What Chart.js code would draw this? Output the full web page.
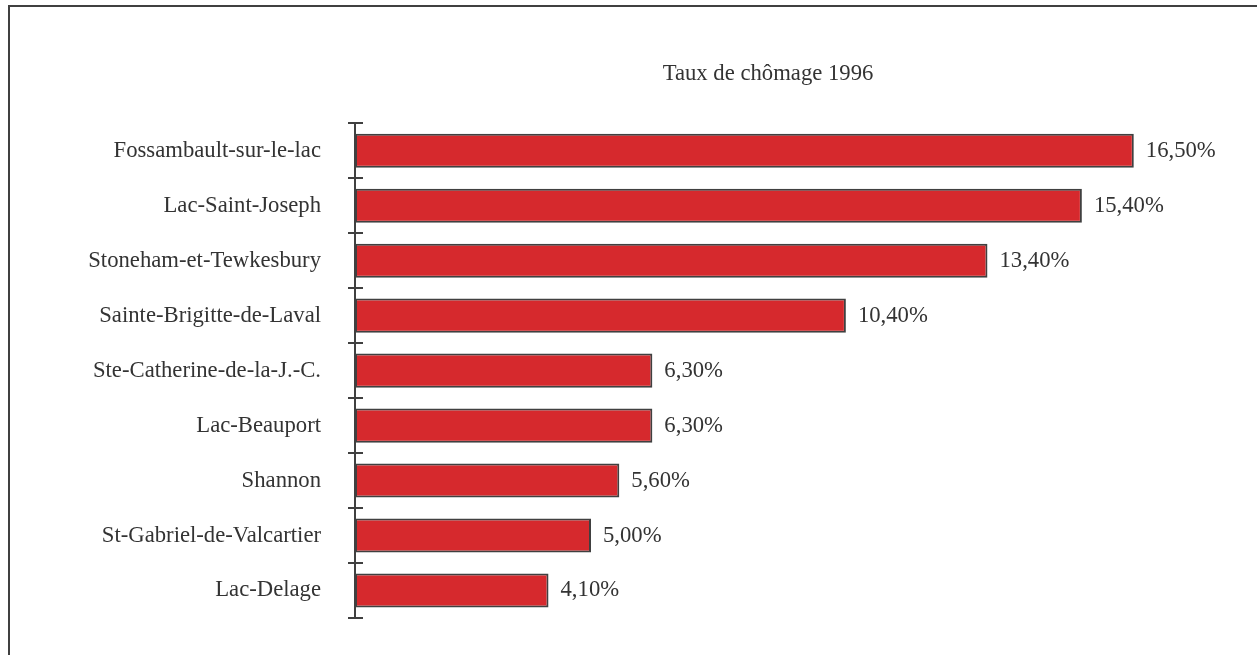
<!DOCTYPE html>
<html>
<head>
<meta charset="utf-8">
<script src="https://cdn.jsdelivr.net/npm/chart.js@4"></script>
<style>
  body { margin: 0; background: #fff; }
  #cadre { position: absolute; left: 8px; top: 5px; width: 1300px; height: 700px;
           border-left: 2px solid #404040; border-top: 2px solid #404040; }
  #grafikon { position: absolute; left: 0; top: 0; }
</style>
</head>
<body>
<div id="cadre"></div>
<canvas id="grafikon" width="1257" height="655"></canvas>
<script>
var municipalites = ["Fossambault-sur-le-lac", "Lac-Saint-Joseph", "Stoneham-et-Tewkesbury",
    "Sainte-Brigitte-de-Laval", "Ste-Catherine-de-la-J.-C.", "Lac-Beauport",
    "Shannon", "St-Gabriel-de-Valcartier", "Lac-Delage"];
var taux = [16.5, 15.4, 13.4, 10.4, 6.3, 6.3, 5.6, 5.0, 4.1];
var etiquettes = ["16,50%", "15,40%", "13,40%", "10,40%", "6,30%", "6,30%", "5,60%", "5,00%", "4,10%"];

var police = "'Liberation Serif', 'Times New Roman', serif";
var gris = "#404040";
var taille = 22.7;

// petites marques de part et d'autre de l'axe + valeurs au bout des barres
var extras = {
    id: "extras",
    afterDraw: function(chart) {
        var ctx = chart.ctx;
        var y = chart.scales.y;
        var x0 = y.right;
        var pas = (y.getPixelForValue(1) - y.getPixelForValue(0));
        ctx.save();
        ctx.strokeStyle = gris;
        ctx.lineWidth = 2;
        for (var i = 0; i <= municipalites.length; i++) {
            var py = Math.round(y.getPixelForValue(i) - pas / 2);
            ctx.beginPath();
            ctx.moveTo(x0 - 7, py);
            ctx.lineTo(x0 + 8, py);
            ctx.stroke();
        }
        ctx.fillStyle = "#333";
        ctx.font = taille + "px " + police;
        ctx.textBaseline = "middle";
        chart.getDatasetMeta(0).data.forEach(function(bar, i) {
            ctx.fillText(etiquettes[i], bar.x + 12, bar.y);
        });
        ctx.restore();
    }
};

new Chart("grafikon", {
    type: "bar",
    data: {
        labels: municipalites,
        datasets: [{
            data: taux,
            backgroundColor: "#d6292d",
            borderColor: gris,
            borderWidth: 2,
            borderSkipped: false,
            barPercentage: 0.62,
            categoryPercentage: 1
        }]
    },
    options: {
        indexAxis: "y",
        responsive: false,
        animation: false,
        layout: { padding: { top: 0, right: 76, bottom: 37, left: 0 } },
        plugins: {
            legend: { display: false },
            tooltip: { enabled: false },
            title: {
                display: true,
                fullSize: false,
                text: "Taux de chômage 1996",
                color: "#333",
                font: { family: police, size: taille, weight: "normal" },
                padding: { top: 60, bottom: 36 }
            }
        },
        scales: {
            x: { display: false, min: 0, max: 17.5 },
            y: {
                grid: { display: true, drawOnChartArea: false, color: "transparent", tickLength: 30 },
                border: { display: true, color: gris, width: 2 },
                ticks: {
                    color: "#333",
                    padding: 4,
                    font: { family: police, size: taille }
                },
                afterFit: function(scale) { scale.width = 355; }
            }
        }
    },
    plugins: [extras]
});
</script>
</body>
</html>
